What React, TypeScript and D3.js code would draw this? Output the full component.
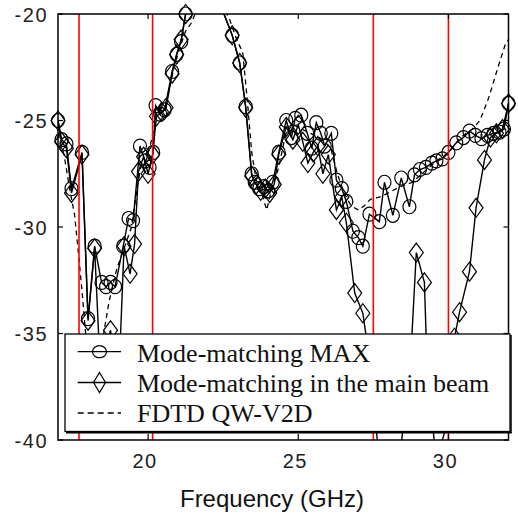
import React from "react";
import * as d3 from "d3";

const W = 518;
const H = 529;
const PL = 58, PR = 508.5, PT = 14, PB = 440;

const xTicks = [20, 25, 30];
const yTicks = [-20, -25, -30, -35, -40];
const redLines = [17.7, 20.15, 27.5, 30.0];

// Mode-matching MAX (circles)
const maxFreq = [17.0, 17.12, 17.28, 17.45, 17.8, 18.0, 18.22, 18.45, 18.6, 18.75, 18.9, 19.17, 19.35, 19.5, 19.73, 19.9, 20.05, 20.17, 20.25, 20.4, 20.55, 20.8, 20.95, 21.1, 21.25, 21.6, 21.9, 22.2, 22.5, 22.8, 23.05, 23.25, 23.45, 23.55, 23.7, 23.85, 24.0, 24.15, 24.35, 24.6, 24.77, 24.9, 25.1, 25.3, 25.45, 25.6, 25.75, 25.88, 26.1, 26.27, 26.45, 26.6, 26.82, 27.0, 27.15, 27.37, 27.7, 27.87, 28.15, 28.43, 28.7, 28.87, 29.05, 29.25, 29.45, 29.6, 29.8, 30.0, 30.26, 30.5, 30.7, 30.9, 31.1, 31.3, 31.5, 31.7, 31.85, 32.0];
const maxVal = [-25.0, -25.9, -26.1, -28.2, -26.5, -34.3, -30.9, -32.6, -32.8, -32.6, -32.8, -30.9, -29.6, -29.7, -26.2, -26.9, -27.2, -26.5, -24.3, -24.7, -24.5, -22.7, -21.9, -21.3, -20.0, -19.0, -18.6, -19.0, -19.9, -21.0, -22.3, -24.35, -27.5, -27.9, -28.2, -28.1, -28.3, -27.9, -26.5, -25.0, -25.8, -24.9, -24.75, -25.6, -26.3, -25.1, -25.6, -26.2, -25.6, -27.8, -28.2, -28.8, -30.2, -30.5, -30.9, -29.4, -29.75, -27.9, -29.45, -27.7, -29.05, -27.55, -27.3, -27.2, -27.0, -26.9, -26.8, -26.5, -26.05, -25.8, -25.5, -25.7, -25.85, -25.7, -25.6, -25.55, -25.4, -24.2];

// Mode-matching in the main beam (diamonds)
const beamFreq = [17.0, 17.12, 17.28, 17.45, 17.8, 18.0, 18.22, 18.4, 18.75, 19.0, 19.2, 19.4, 19.55, 19.68, 19.85, 20.0, 20.15, 20.28, 20.45, 20.6, 20.8, 20.95, 21.1, 21.25, 21.6, 21.9, 22.2, 22.5, 22.8, 23.05, 23.25, 23.45, 23.6, 23.75, 23.9, 24.05, 24.2, 24.35, 24.6, 24.82, 25.0, 25.15, 25.32, 25.5, 25.65, 25.82, 26.0, 26.27, 26.45, 26.6, 26.88, 27.15, 27.45, 27.72, 28.0, 28.4, 28.75, 28.93, 29.2, 29.3, 29.6, 30.0, 30.2, 30.37, 30.7, 30.92, 31.2, 31.4, 31.6, 31.8, 32.0];
const beamVal = [-25.0, -26.0, -26.3, -28.4, -26.6, -34.4, -31.0, -36.5, -34.85, -38.0, -30.9, -32.2, -30.8, -27.4, -26.7, -27.5, -26.6, -24.8, -24.6, -24.4, -22.8, -21.9, -21.2, -20.0, -19.0, -18.6, -19.0, -19.9, -21.0, -22.3, -24.4, -27.6, -28.0, -28.3, -28.2, -28.4, -28.0, -26.6, -25.3, -25.9, -25.2, -26.0, -27.0, -26.5, -26.2, -27.5, -26.6, -29.2, -28.6, -29.8, -33.1, -34.05, -37.0, -41.5, -44.0, -40.6, -36.0, -31.2, -32.6, -37.0, -41.0, -39.0, -35.2, -34.0, -32.1, -29.1, -26.85, -25.8, -25.6, -25.4, -24.2];

// FDTD QW-V2D (dashed)
const fdtdFreq = [17.0, 17.2, 17.4, 17.55, 17.65, 17.8, 17.95, 18.1, 18.4, 18.7, 18.95, 19.2, 19.45, 19.6, 19.75, 19.95, 20.1, 20.3, 20.6, 20.85, 21.05, 21.25, 21.45, 21.7, 22.0, 22.4, 22.7, 22.95, 23.15, 23.3, 23.45, 23.6, 23.8, 23.95, 24.1, 24.35, 24.6, 24.85, 25.1, 25.4, 25.7, 25.9, 26.1, 26.3, 26.5, 26.75, 27.0, 27.2, 27.4, 27.7, 28.0, 28.4, 28.8, 29.2, 29.6, 30.0, 30.4, 30.8, 31.05, 31.35, 31.65, 31.9, 32.0];
const fdtdVal = [-25.6, -26.6, -28.3, -29.4, -30.8, -33.0, -35.5, -37.0, -36.0, -33.5, -32.0, -31.0, -30.0, -28.5, -27.2, -26.8, -26.0, -24.6, -24.2, -22.6, -21.6, -20.8, -20.4, -19.5, -18.8, -19.4, -20.2, -21.2, -21.8, -24.0, -26.5, -27.8, -28.5, -29.2, -28.3, -27.2, -25.5, -25.2, -25.4, -25.6, -25.8, -26.0, -26.4, -27.5, -28.3, -29.0, -29.2, -29.0, -28.7, -28.6, -28.4, -28.1, -27.9, -27.4, -26.9, -26.5, -25.8, -25.4, -25.0, -23.9, -22.5, -21.4, -21.2];

const legendLabels = ["Mode-matching MAX", "Mode-matching in the main beam", "FDTD QW-V2D"];
const xLabel = "Frequency (GHz)";

const x = d3.scaleLinear().domain([17, 32]).range([PL, PR]);
const y = d3.scaleLinear().domain([-40, -20]).range([PB, PT]);

const zip = (fs: number[], vs: number[]) => fs.map((f, i) => ({ f, v: vs[i] }));
const maxData = zip(maxFreq, maxVal);
const beamData = zip(beamFreq, beamVal);
const fdtdData = zip(fdtdFreq, fdtdVal);

const line = d3.line<{ f: number; v: number }>().x((d) => x(d.f)).y((d) => y(d.v));
const inside = (d: { f: number; v: number }) => d.v <= -19.999 && d.v >= -40 && d.f >= 17 && d.f <= 32;

const diamond = (cx: number, cy: number, hw: number, hh: number) =>
  `M${cx},${cy - hh}L${cx + hw},${cy}L${cx},${cy + hh}L${cx - hw},${cy}Z`;

const sans = "'Liberation Sans', Arial, sans-serif";
const serif = "'Liberation Serif', 'Times New Roman', serif";

export default function App() {
  return (
    <div style={{ position: "fixed", left: 0, top: 0 }}>
      <svg width={W} height={H} style={{ display: "block", background: "#fff" }}>
        <defs>
          <clipPath id="plotClip">
            <rect x={PL} y={PT} width={PR - PL} height={PB - PT} />
          </clipPath>
        </defs>
        <rect x={0} y={0} width={W} height={H} fill="#fff" />
        <g clipPath="url(#plotClip)">
          <path d={line(fdtdData) || ""} fill="none" stroke="#000" strokeWidth={1.3} strokeDasharray="5,4" />
          <path d={line(beamData) || ""} fill="none" stroke="#000" strokeWidth={1.4} />
          <path d={line(maxData) || ""} fill="none" stroke="#000" strokeWidth={1.4} />
        </g>
        {beamData.filter(inside).map((d, i) => (
          <path key={"b" + i} d={diamond(x(d.f), y(d.v), 7, 9.5)} fill="none" stroke="#000" strokeWidth={1.2} />
        ))}
        {maxData.filter(inside).map((d, i) => (
          <ellipse key={"m" + i} cx={x(d.f)} cy={y(d.v)} rx={6.5} ry={7} fill="none" stroke="#000" strokeWidth={1.2} />
        ))}
        {redLines.map((f, i) => (
          <line key={"r" + i} x1={x(f)} x2={x(f)} y1={PT} y2={PB} stroke="#ff0000" strokeWidth={1.6} />
        ))}
        {/* frame */}
        <rect x={PL} y={PT} width={PR - PL} height={PB - PT} fill="none" stroke="#000" strokeWidth={1.5} />
        {xTicks.map((t) => (
          <g key={"xt" + t}>
            <line x1={x(t)} x2={x(t)} y1={PB} y2={PB - 6} stroke="#000" strokeWidth={1.2} />
            <line x1={x(t)} x2={x(t)} y1={PT} y2={PT + 5} stroke="#000" strokeWidth={1.2} />
            <text x={x(t) - 3} y={468} textAnchor="middle" fontFamily={sans} fontSize={20} letterSpacing={1.5} fill="#222">
              {t}
            </text>
          </g>
        ))}
        {yTicks.map((t) => (
          <g key={"yt" + t}>
            <line x1={PL} x2={PL + 5} y1={y(t)} y2={y(t)} stroke="#000" strokeWidth={1.2} />
            <line x1={PR} x2={PR - 5} y1={y(t)} y2={y(t)} stroke="#000" strokeWidth={1.2} />
            <text x={48} y={y(t) + 7.5} textAnchor="end" fontFamily={sans} fontSize={20} letterSpacing={1.5} fill="#222">
              {t}
            </text>
          </g>
        ))}
        <text x={272} y={507} textAnchor="middle" fontFamily={sans} fontSize={24} fill="#111">
          {xLabel}
        </text>
        {/* legend */}
        <g>
          <rect x={65} y={334} width={445} height={97.5} fill="#fff" stroke="#000" strokeWidth={1.3} />
          <line x1={511} x2={511} y1={335} y2={433} stroke="#000" strokeWidth={1.5} />
          <line x1={66} x2={511.7} y1={432.8} y2={432.8} stroke="#000" strokeWidth={1.5} />
          {legendLabels.map((lab, i) => {
            const cy = [351.7, 382.5, 413][i];
            const by = [361.7, 391.7, 421.7][i];
            return (
              <g key={"lg" + i}>
                <line x1={77.7} x2={121} y1={cy} y2={cy} stroke="#000" strokeWidth={1.3} strokeDasharray={i === 2 ? "6,4" : undefined} />
                {i === 0 && <ellipse cx={99.5} cy={cy} rx={7} ry={6} fill="none" stroke="#000" strokeWidth={1.2} />}
                {i === 1 && <path d={diamond(99.5, cy, 6, 10)} fill="none" stroke="#000" strokeWidth={1.2} />}
                <text x={137} y={by} fontFamily={serif} fontSize={26} fill="#111">
                  {lab}
                </text>
              </g>
            );
          })}
        </g>
      </svg>
    </div>
  );
}
